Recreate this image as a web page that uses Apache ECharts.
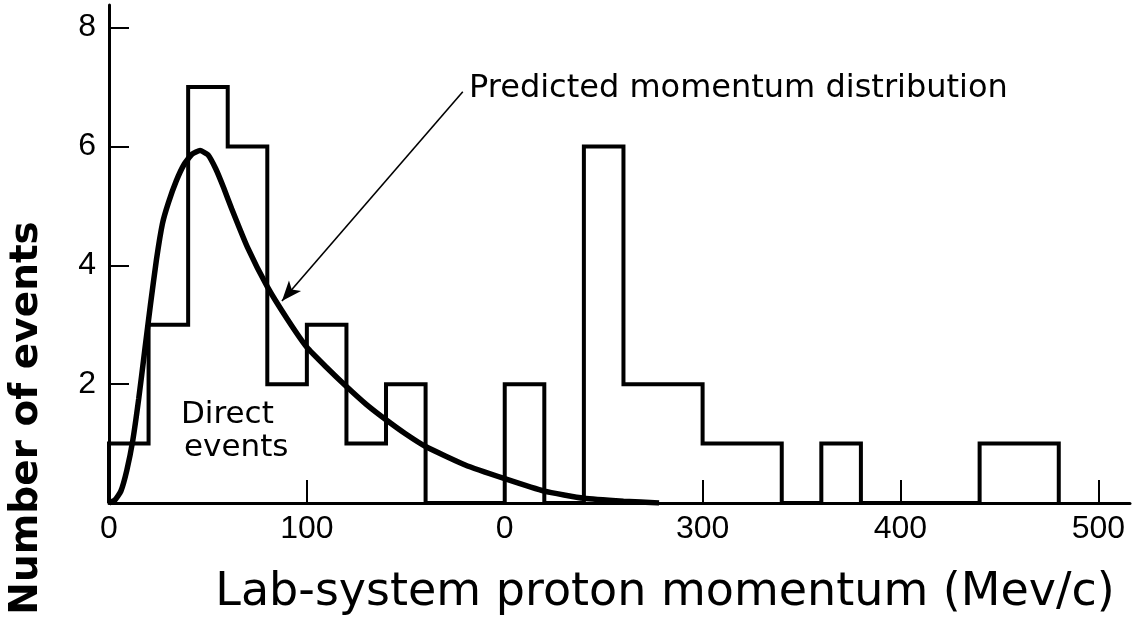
<!DOCTYPE html>
<html><head><meta charset="utf-8">
<script src="https://cdn.jsdelivr.net/npm/echarts@6/dist/echarts.min.js"></script>
<style>html,body{margin:0;padding:0;background:#fff}#c{width:1143px;height:630px}</style>
</head><body><div id="c"></div>
<script>
// Histogram bin edges (Mev/c) and event counts per bin
const binEdges = [0,20,40,60,80,100,120,140,160,180,200,220,240,260,280,300,320,340,360,380,400,420,440,460,480];
const binCounts = [1,3,7,6,2,3,1,2,0,0,2,0,6,2,2,1,1,0,1,0,0,0,1,1];
// Predicted momentum distribution curve
const curveX = [0,3,6,9,12,15,18,21,24,27,30,34,38,42,46,50,54,58,62,70,80,90,100,110,120,130,140,150,160,180,200,220,240,260,278];
const curveY = [0,0.05,0.2,0.55,1.05,1.75,2.55,3.35,4.1,4.7,5.05,5.42,5.7,5.87,5.93,5.86,5.62,5.3,4.95,4.3,3.64,3.1,2.62,2.28,1.96,1.66,1.40,1.16,0.95,0.64,0.41,0.2,0.08,0.03,0];
// Axis ticks / labels
const xTickValues = [100,200,300,400,500];
const xLabelValues = [0,100,200,300,400,500];
const xLabelTexts = ['0','100','0','300','400','500'];
const yTickValues = [2,4,6,8];
const yLabelTexts = ['2','4','6','8'];
// Annotation arrow (data coords)
const arrowFrom = [178.8, 6.92];
const arrowTo = [87.4, 3.40];

const outline = [[binEdges[0], 0]];
for (let i = 0; i < binCounts.length; i++) {
  outline.push([binEdges[i], binCounts[i]]);
  outline.push([binEdges[i + 1], binCounts[i]]);
}
outline.push([binEdges[binEdges.length - 1], 0]);
const curve = curveX.map((x, i) => [x, curveY[i]]);

const chart = echarts.init(document.getElementById('c'), null, {renderer: 'canvas'});
const labelFont = {color: '#000', fontFamily: 'Liberation Sans', fontSize: 32};
chart.setOption({
  animation: false,
  backgroundColor: '#fff',
  grid: {left: 109, right: 13, top: 5, bottom: 127, containLabel: false, outerBoundsMode: 'none'},
  xAxis: {
    type: 'value', min: 0, max: 516,
    axisLine: {show: true, onZero: true, lineStyle: {color: '#000', width: 3}},
    axisTick: {show: true, inside: true, length: 23, customValues: xTickValues, lineStyle: {color: '#000', width: 2}},
    axisLabel: Object.assign({show: true, margin: 10, customValues: xLabelValues,
      formatter: v => xLabelTexts[xLabelValues.indexOf(v)]}, labelFont),
    splitLine: {show: false}
  },
  yAxis: {
    type: 'value', min: 0, max: 8.38,
    axisLine: {show: true, onZero: true, lineStyle: {color: '#000', width: 3}},
    axisTick: {show: true, inside: true, length: 20, customValues: yTickValues, lineStyle: {color: '#000', width: 2}},
    axisLabel: Object.assign({show: true, margin: 13, customValues: yTickValues,
      formatter: v => yLabelTexts[yTickValues.indexOf(v)]}, labelFont),
    splitLine: {show: false}
  },
  series: [
    {
      type: 'line', name: 'Events', data: outline, showSymbol: false, symbol: 'none',
      lineStyle: {color: '#000', width: 4, join: 'miter'}, z: 3
    },
    {
      type: 'line', name: 'Predicted', data: curve, smooth: 0.15, showSymbol: false, symbol: 'none',
      lineStyle: {color: '#000', width: 5.5}, z: 4,
      markLine: {
        silent: true, animation: false, symbol: ['none', 'arrow'], symbolSize: [12, 20],
        label: {show: false},
        lineStyle: {color: '#000', width: 1.6, type: 'solid'},
        data: [[{coord: arrowFrom}, {coord: arrowTo}]]
      }
    }
  ],
  graphic: [
    {type: 'text', x: 27, y: 418, rotation: Math.PI / 2,
     style: {text: 'Number of events', font: 'bold 39px "DejaVu Sans"', fill: '#000', align: 'center', verticalAlign: 'middle'}},
    {type: 'text', x: 665, y: 593,
     style: {text: 'Lab-system proton momentum (Mev/c)', font: '46px "DejaVu Sans"', fill: '#000', align: 'center', verticalAlign: 'middle'}},
    {type: 'text', x: 469, y: 89,
     style: {text: 'Predicted momentum distribution', font: '32px "DejaVu Sans"', fill: '#000', align: 'left', verticalAlign: 'middle'}},
    {type: 'text', x: 181, y: 415,
     style: {text: 'Direct', font: '31px "DejaVu Sans"', fill: '#000', align: 'left', verticalAlign: 'middle'}},
    {type: 'text', x: 184, y: 448,
     style: {text: 'events', font: '31px "DejaVu Sans"', fill: '#000', align: 'left', verticalAlign: 'middle'}}
  ]
});
</script></body></html>
